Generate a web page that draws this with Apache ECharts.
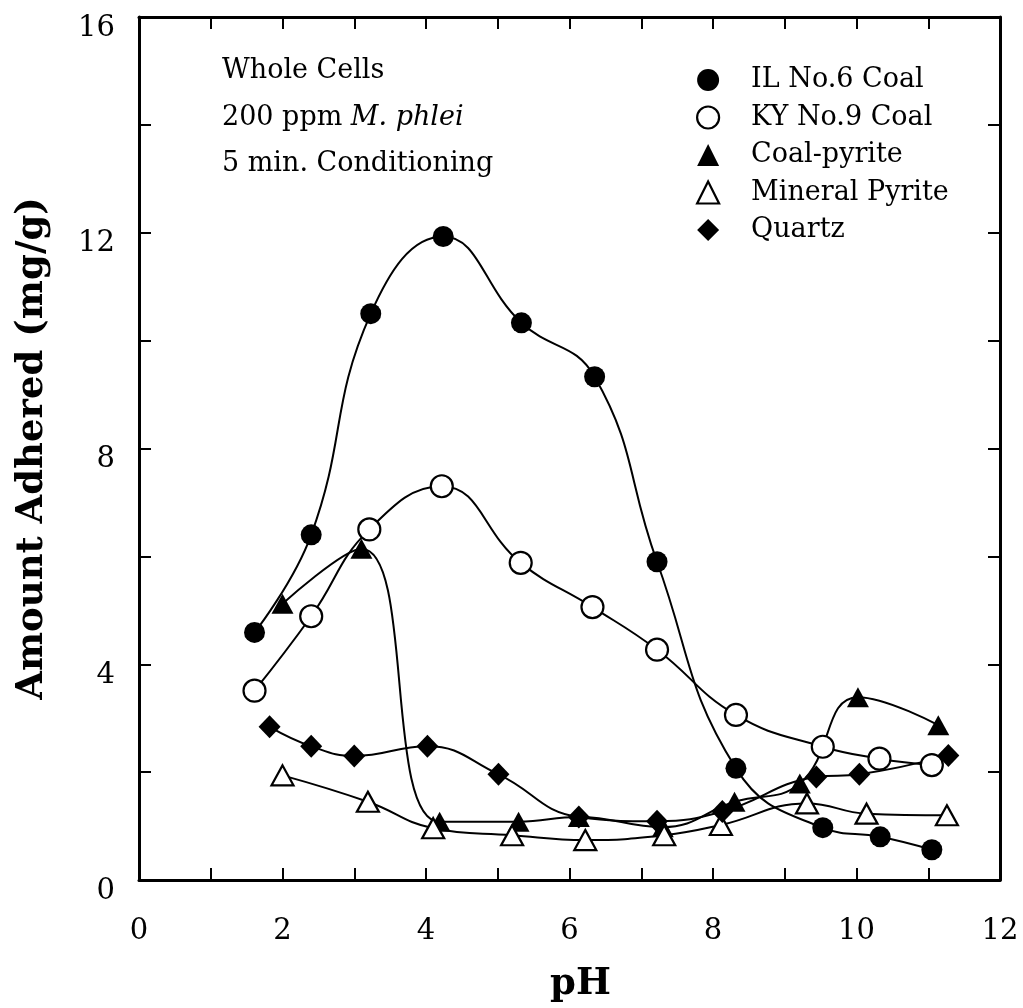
<!DOCTYPE html>
<html>
<head>
<meta charset="utf-8">
<script src="https://cdn.jsdelivr.net/npm/echarts@6/dist/echarts.min.js"></script>
<style>
  html, body { margin: 0; padding: 0; background: #fff; }
  #chart { width: 1023px; height: 1008px; }
</style>
</head>
<body>
<div id="chart"></div>
<script>
// Adhesion of M. phlei whole cells on coal and minerals vs. pH
const ilCoalPH  = [1.61, 2.40, 3.23, 4.24, 5.33, 6.35, 7.22, 8.32, 9.53, 10.33, 11.05];
const ilCoalAmt = [4.59, 6.40, 10.50, 11.93, 10.33, 9.33, 5.90, 2.07, 0.97, 0.80, 0.56];

const kyCoalPH  = [1.61, 2.40, 3.21, 4.22, 5.32, 6.32, 7.22, 8.32, 9.53, 10.32, 11.05];
const kyCoalAmt = [3.51, 4.89, 6.50, 7.30, 5.88, 5.06, 4.27, 3.06, 2.47, 2.25, 2.13];

const coalPyritePH  = [2.00, 3.10, 4.19, 5.29, 6.13, 7.30, 8.30, 9.21, 10.02, 11.14];
const coalPyriteAmt = [5.12, 6.14, 1.08, 1.08, 1.17, 0.98, 1.45, 1.79, 3.39, 2.87];

const mineralPyritePH  = [2.00, 3.19, 4.10, 5.20, 6.22, 7.32, 8.11, 9.31, 10.14, 11.26];
const mineralPyriteAmt = [1.94, 1.45, 0.96, 0.83, 0.74, 0.83, 1.02, 1.42, 1.23, 1.20];

const quartzPH  = [1.82, 2.40, 3.00, 4.02, 5.01, 6.13, 7.22, 8.13, 9.44, 10.04, 11.28];
const quartzAmt = [2.84, 2.48, 2.30, 2.48, 1.96, 1.17, 1.09, 1.27, 1.91, 1.96, 2.31];

const xTickLabels = [0, 2, 4, 6, 8, 10, 12];
const yTickLabels = [0, 4, 8, 12, 16];

const SERIF = '"DejaVu Serif", "Liberation Serif", serif';
const BLACK = '#000';

function pairs(xs, ys) { return xs.map((x, i) => [x, ys[i]]); }

function filled() { return { color: BLACK }; }
function hollow() { return { color: '#fff', borderColor: BLACK, borderWidth: 2.2 }; }

function curve(name, xs, ys, symbol, size, style) {
  return {
    name: name,
    type: 'line',
    xAxisIndex: 0,
    yAxisIndex: 0,
    data: pairs(xs, ys),
    smooth: 0.45,
    symbol: symbol,
    symbolSize: size,
    showSymbol: true,
    itemStyle: style,
    lineStyle: { color: BLACK, width: 2 },
    emphasis: { disabled: true },
    silent: true
  };
}

function ticks() {
  return { show: true, inside: true, length: 12, lineStyle: { color: BLACK, width: 2 } };
}
function frameLine() {
  return { show: true, onZero: false, lineStyle: { color: BLACK, width: 3 } };
}

function xAxisDef(pos, withLabels) {
  const ax = {
    type: 'value', min: 0, max: 12, interval: 1, position: pos, show: true,
    axisLine: frameLine(), axisTick: ticks(), splitLine: { show: false },
    axisLabel: withLabels ? {
      margin: 37, color: BLACK, fontFamily: SERIF, fontSize: 29,
      formatter: v => xTickLabels.includes(v) ? String(v) : ''
    } : { show: false }
  };
  if (withLabels) {
    ax.name = 'pH';
    ax.nameLocation = 'middle';
    ax.nameGap = 86;
    ax.nameTextStyle = { fontFamily: SERIF, fontSize: 37, fontWeight: 'bold', color: BLACK, padding: [0, 0, 0, 22] };
  }
  return ax;
}

function yAxisDef(pos, withLabels) {
  const ax = {
    type: 'value', min: 0, max: 16, interval: 2, position: pos, show: true,
    axisLine: frameLine(), axisTick: ticks(), splitLine: { show: false },
    axisLabel: withLabels ? {
      margin: 24, color: BLACK,
      formatter: v => yTickLabels.includes(v) ? '{t|' + v + '}' : '',
      rich: { t: { fontFamily: SERIF, fontSize: 29, color: BLACK, padding: [22, 0, 0, 0] } }
    } : { show: false }
  };
  if (withLabels) {
    ax.name = 'Amount Adhered (mg/g)';
    ax.nameLocation = 'middle';
    ax.nameGap = 88;
    ax.nameRotate = 90;
    ax.nameTextStyle = { fontFamily: SERIF, fontSize: 37, fontWeight: 'bold', color: BLACK };
  }
  return ax;
}

const chart = echarts.init(document.getElementById('chart'), null, { renderer: 'canvas' });
chart.setOption({
  animation: false,
  backgroundColor: '#fff',
  grid: { left: 139, right: 23, top: 17, bottom: 124, containLabel: false },
  xAxis: [xAxisDef('bottom', true), xAxisDef('top', false)],
  yAxis: [yAxisDef('left', true), yAxisDef('right', false)],
  legend: {
    orient: 'vertical', left: 691, top: 60,
    itemWidth: 22, itemHeight: 22, itemGap: 7.5,
    selectedMode: false,
    textStyle: { fontFamily: SERIF, fontSize: 27, color: BLACK, lineHeight: 30, padding: [0, 0, 0, 27] },
    data: [
      { name: 'IL No.6 Coal', icon: 'circle', itemStyle: { color: BLACK, borderWidth: 0 } },
      { name: 'KY No.9 Coal', icon: 'circle', itemStyle: { color: '#fff', borderColor: BLACK, borderWidth: 2.2 } },
      { name: 'Coal-pyrite', icon: 'triangle', itemStyle: { color: BLACK, borderWidth: 0 } },
      { name: 'Mineral Pyrite', icon: 'triangle', itemStyle: { color: '#fff', borderColor: BLACK, borderWidth: 2.2 } },
      { name: 'Quartz', icon: 'diamond', itemStyle: { color: BLACK, borderWidth: 0 } }
    ]
  },
  graphic: [
    { type: 'text', x: 222, y: 71, silent: true,
      style: { text: 'Whole Cells', fontFamily: SERIF, fontSize: 27, fill: BLACK, verticalAlign: 'middle' } },
    { type: 'text', x: 222, y: 118, silent: true,
      style: { text: '200 ppm {i|M. phlei}', fontFamily: SERIF, fontSize: 27, fill: BLACK, verticalAlign: 'middle',
        rich: { i: { fontFamily: SERIF, fontSize: 27, fontStyle: 'italic', fill: BLACK } } } },
    { type: 'text', x: 222, y: 164, silent: true,
      style: { text: '5 min. Conditioning', fontFamily: SERIF, fontSize: 27, fill: BLACK, verticalAlign: 'middle' } }
  ],
  series: [
    curve('IL No.6 Coal', ilCoalPH, ilCoalAmt, 'circle', 21, filled()),
    curve('KY No.9 Coal', kyCoalPH, kyCoalAmt, 'circle', 22, hollow()),
    curve('Coal-pyrite', coalPyritePH, coalPyriteAmt, 'triangle', [22, 20], filled()),
    curve('Mineral Pyrite', mineralPyritePH, mineralPyriteAmt, 'triangle', [22, 20], hollow()),
    curve('Quartz', quartzPH, quartzAmt, 'diamond', [22, 23], filled()),
    // empty series keeps the top and right frame axes bound to the grid
    { type: 'line', xAxisIndex: 1, yAxisIndex: 1, data: [], silent: true }
  ]
});
</script>
</body>
</html>
